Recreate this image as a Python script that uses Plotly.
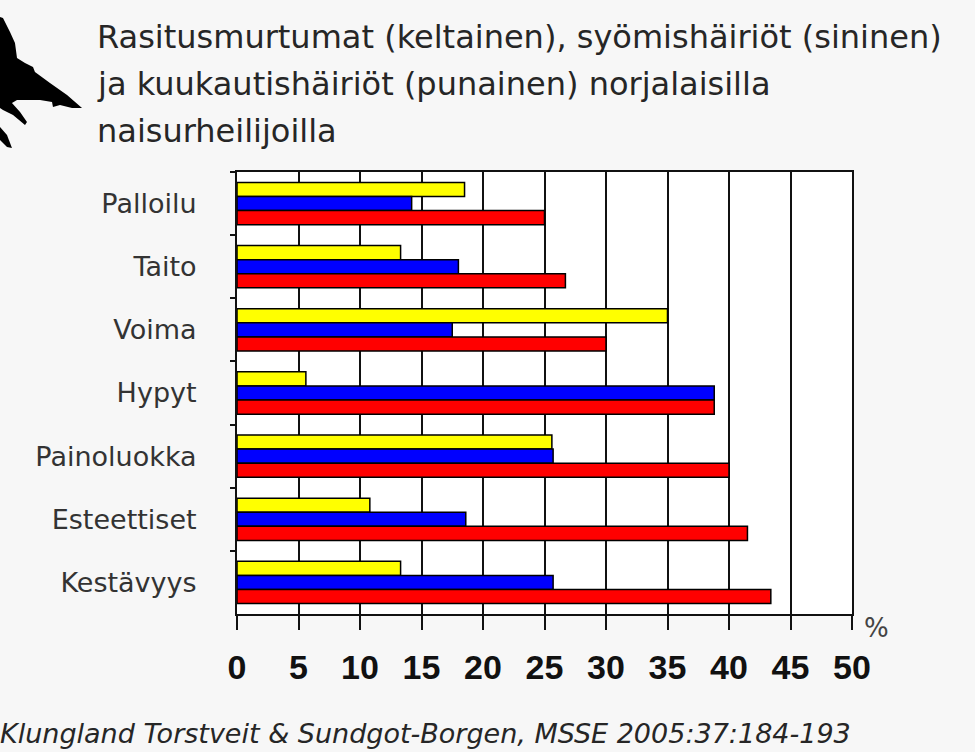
import plotly.graph_objects as go

categories = ["Palloilu", "Taito", "Voima", "Hypyt", "Painoluokka", "Esteettiset", "Kestävyys"]
rasitusmurtumat = [18.5, 13.3, 35.0, 5.6, 25.6, 10.8, 13.3]   # yellow
syomishairiot = [14.2, 18.0, 17.5, 38.8, 25.7, 18.6, 25.7]      # blue
kuukautishairiot = [25.0, 26.7, 30.0, 38.8, 40.0, 41.5, 43.4]   # red
x_ticks = [0, 5, 10, 15, 20, 25, 30, 35, 40, 45, 50]

title_lines = [
    "Rasitusmurtumat (keltainen), syömishäiriöt (sininen)",
    "ja kuukautishäiriöt (punainen) norjalaisilla",
    "naisurheilijoilla",
]
citation = "Klungland Torstveit & Sundgot-Borgen, MSSE 2005:37:184-193"

W, H = 975, 752
L, R, T, B = 237, 123, 172, 138
PW, PH = W - L - R, H - T - B


def px(x, y):
    return (x - L) / PW, 1 - (y - T) / PH


fig = go.Figure()
for name, vals, col in [
    ("Rasitusmurtumat", rasitusmurtumat, "#ffff00"),
    ("Syömishäiriöt", syomishairiot, "#0000ff"),
    ("Kuukautishäiriöt", kuukautishairiot, "#ff0000"),
]:
    fig.add_trace(go.Bar(
        y=categories, x=vals, name=name, orientation="h",
        marker=dict(color=col, line=dict(color="#000000", width=1.5)),
    ))

fig.update_layout(
    width=W, height=H,
    margin=dict(l=L, r=R, t=T, b=B),
    paper_bgcolor="#f7f7f7",
    plot_bgcolor="#ffffff",
    barmode="group",
    bargap=0.33,
    bargroupgap=0,
    showlegend=False,
    xaxis=dict(
        range=[0, 50], tickvals=x_ticks, ticktext=[str(v) for v in x_ticks],
        showgrid=True, gridcolor="#111111", gridwidth=2,
        showline=True, linecolor="#111111", linewidth=2, mirror=True,
        ticks="outside", ticklen=14, tickwidth=2, tickcolor="#111111",
        zeroline=False,
        tickfont=dict(family="Liberation Sans, Arial", size=34, color="#111111", weight="bold"),
        ticklabelstandoff=8,
    ),
    yaxis=dict(
        categoryorder="array", categoryarray=categories, autorange="reversed",
        showgrid=False, zeroline=False,
        showline=True, linecolor="#111111", linewidth=2, mirror=True,
        ticks="outside", ticklen=5, tickwidth=2, tickcolor="#111111",
        tickson="boundaries",
        tickfont=dict(family="DejaVu Sans", size=27, color="#333333"),
        ticklabelstandoff=33,
    ),
)

# title lines
for i, line in enumerate(title_lines):
    fig.add_annotation(
        text=line, xref="paper", yref="paper",
        x=px(95, 0)[0], y=px(0, 37 + 47 * i)[1],
        xanchor="left", yanchor="middle", showarrow=False,
        font=dict(family="DejaVu Sans", size=32, color="#262626"),
    )

# % label
fig.add_annotation(
    text="%", xref="paper", yref="paper",
    x=px(876, 0)[0], y=px(0, 628)[1], xanchor="center", yanchor="middle",
    showarrow=False, font=dict(family="DejaVu Sans", size=26, color="#444444"),
)

# citation
fig.add_annotation(
    text=citation, xref="paper", yref="paper",
    x=px(-2, 0)[0], y=px(0, 751)[1], xanchor="left", yanchor="bottom",
    showarrow=False, font=dict(family="DejaVu Sans", size=27, color="#262626", style="italic"),
)

# decorative silhouette at top-left
bird = [(0, 17), (3, 18), (10, 32), (15, 43), (17, 58), (25, 63), (33, 67), (35, 72),
        (50, 83), (67, 95), (82, 108), (72, 108), (60, 105), (53, 107), (52, 102),
        (40, 100), (27, 100), (17, 100), (12, 103), (20, 112), (27, 122), (25, 125),
        (13, 115), (3, 110), (0, 108)]
bird2 = [(0, 127), (7, 135), (12, 148), (7, 147), (0, 140)]
for poly in (bird, bird2):
    pts = [px(x, y) for x, y in poly]
    path = "M " + " L ".join(f"{a:.4f},{b:.4f}" for a, b in pts) + " Z"
    fig.add_shape(type="path", path=path, xref="paper", yref="paper",
                  fillcolor="#000000", line=dict(width=0), layer="above")

fig.write_html("out.html")
